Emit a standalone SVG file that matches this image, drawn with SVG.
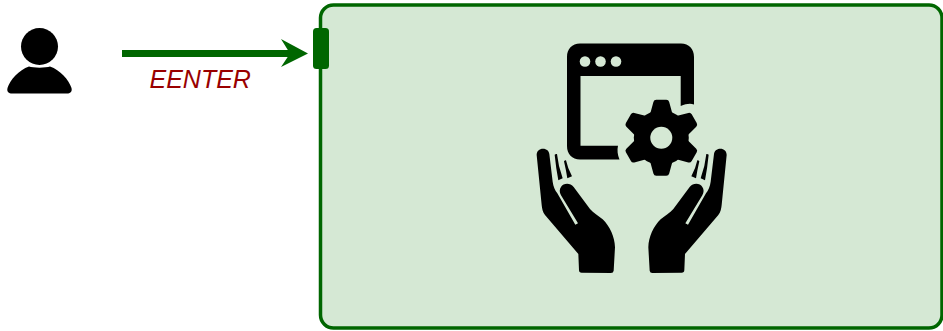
<svg xmlns="http://www.w3.org/2000/svg" width="943" height="331" viewBox="0 0 943 331">
<style>
.ink{fill:#000}
.green{fill:#006600}
.tooth{fill:#000;stroke:#000;stroke-width:6;stroke-linejoin:round}
.label{font-family:"Liberation Sans",Arial,sans-serif;font-style:italic;font-size:25px;fill:#990000}
</style>
<defs>
<g id="hand">
<path d="M20 45C20 33 28 26 39 26C50 26 57 33 58 42L68 125C70 140 75 150 82 160L136 254L144 250L93 166C88 155 88 148 93 141C100 129 120 127 131 141L180 207C190 218 205 227 218 238C240 260 254 290 255 322L251 392Q250 399 243 399L155 398Q147 398 147 390L145 342L45 225C38 216 36 205 35 195Z" class="ink"/>
<path d="M74 44Q77 41 81 42Q85 80 98 115L85 121Q78 85 74 44Z" class="ink"/>
<path d="M102 64Q105 60 108 61Q113 85 126 109L112 115Q108 90 102 64Z" class="ink"/>
</g>
<path id="tooth" d="M-5 -35H5L8 -24H-8Z" class="tooth"/>
</defs>
<g id="container">
<rect x="320.500" y="5" width="621.500" height="323" rx="13" fill="#d5e8d4" stroke="#006600" stroke-width="3.500"/>
</g>
<g id="port">
<rect x="313" y="28" width="16" height="41" rx="3.500" class="green"/>
</g>
<g id="connectors">
<path d="M122 53.500H292" fill="none" stroke="#006600" stroke-width="7"/>
<path d="M281 39L308 53.500L281 67L290 53.500Z" class="green"/>
</g>
<g id="user">
<circle cx="39.500" cy="46.500" r="18.500" class="ink"/>
<path d="M29 66.500C33 68 46 68 50 66.500C60 70 69 80 71.500 88C72.500 92 70 93.500 67 93.500H12C9 93.500 6.500 92 7.500 88C10 80 19 70 29 66.500Z" class="ink"/>
<text x="149.500" y="88" class="label">EENTER</text>
</g>
<g id="service-icon">
<path d="M580 43.500H681C689 43.500 694 49 694 57V104.500C690 103 686 104 680.700 106V76H580.500V145.700H618C617 150 617.500 155 619.500 159.500H580C572 159.500 567 154 567 146V57C567 49 572 43.500 580 43.500Z" class="ink"/>
<circle cx="585" cy="61.500" r="5.300" fill="#d5e8d4"/>
<circle cx="600.500" cy="61.500" r="5.300" fill="#d5e8d4"/>
<circle cx="616" cy="61.500" r="5.300" fill="#d5e8d4"/>
<use href="#tooth" transform="translate(661.300 137.700)"/>
<use href="#tooth" transform="translate(661.300 137.700) rotate(60)"/>
<use href="#tooth" transform="translate(661.300 137.700) rotate(120)"/>
<use href="#tooth" transform="translate(661.300 137.700) rotate(180)"/>
<use href="#tooth" transform="translate(661.300 137.700) rotate(240)"/>
<use href="#tooth" transform="translate(661.300 137.700) rotate(300)"/>
<circle cx="661.300" cy="137.700" r="27.500" class="ink"/>
<circle cx="661.300" cy="137.700" r="11" fill="#d5e8d4"/>
<use href="#hand" transform="translate(530 140) scale(.33333)"/>
<use href="#hand" transform="translate(733.330 140) scale(-.33333 .33333)"/>
</g>
</svg>
